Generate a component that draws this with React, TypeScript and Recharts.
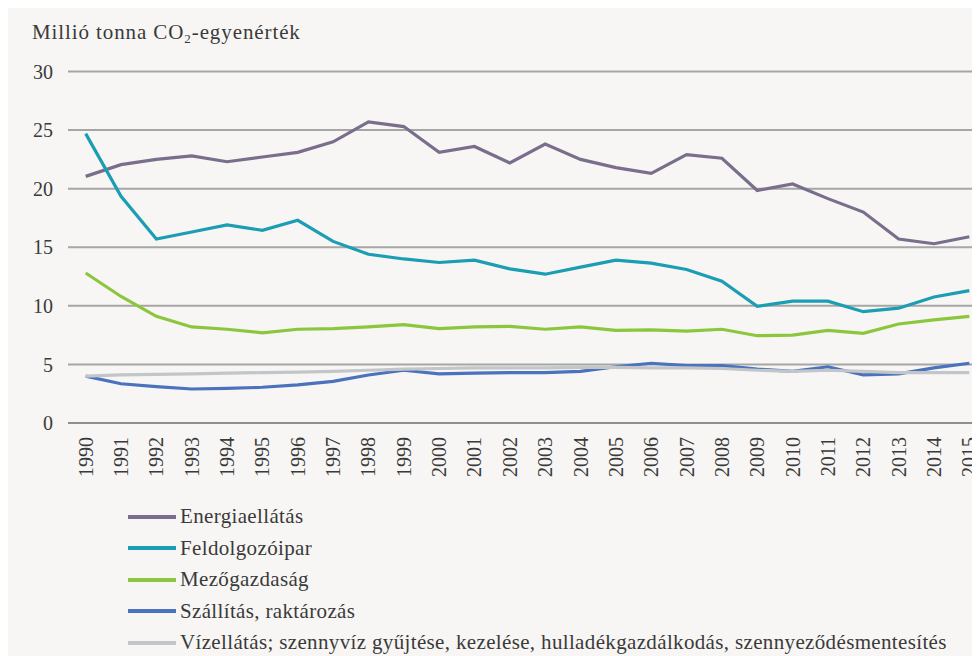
import React from "react";
import { LineChart, Line, XAxis, YAxis, CartesianGrid, Legend } from "recharts";

const years = ["1990","1991","1992","1993","1994","1995","1996","1997","1998","1999","2000","2001","2002","2003","2004","2005","2006","2007","2008","2009","2010","2011","2012","2013","2014","2015"];

const energia = [21.05, 22.05, 22.5, 22.8, 22.3, 22.7, 23.1, 24.0, 25.7, 25.3, 23.1, 23.6, 22.2, 23.8, 22.5, 21.8, 21.3, 22.9, 22.6, 19.85, 20.4, 19.15, 18.0, 15.7, 15.3, 15.9];
const feldolgozo = [24.7, 19.35, 15.7, 16.3, 16.9, 16.45, 17.3, 15.5, 14.4, 14.0, 13.7, 13.9, 13.15, 12.7, 13.3, 13.9, 13.65, 13.1, 12.1, 9.95, 10.4, 10.4, 9.5, 9.8, 10.75, 11.3];
const mezo = [12.8, 10.8, 9.1, 8.2, 8.0, 7.7, 8.0, 8.05, 8.2, 8.4, 8.05, 8.2, 8.25, 8.0, 8.2, 7.9, 7.95, 7.85, 8.0, 7.45, 7.5, 7.9, 7.65, 8.45, 8.8, 9.1];
const szallitas = [4.0, 3.35, 3.1, 2.9, 2.95, 3.05, 3.25, 3.55, 4.1, 4.5, 4.2, 4.25, 4.3, 4.3, 4.4, 4.8, 5.1, 4.9, 4.9, 4.6, 4.4, 4.8, 4.1, 4.2, 4.7, 5.1];
const viz = [4.0, 4.1, 4.15, 4.2, 4.25, 4.3, 4.35, 4.4, 4.5, 4.6, 4.65, 4.7, 4.7, 4.7, 4.75, 4.75, 4.7, 4.7, 4.65, 4.5, 4.4, 4.5, 4.4, 4.3, 4.3, 4.3];

const yTicks = [0, 5, 10, 15, 20, 25, 30];

const series = [
  { key: "energia", name: "Energiaellátás", color: "#7a6e8c" },
  { key: "feldolgozo", name: "Feldolgozóipar", color: "#1b9db3" },
  { key: "mezo", name: "Mezőgazdaság", color: "#8cc63e" },
  { key: "szallitas", name: "Szállítás, raktározás", color: "#4a72bd" },
  { key: "viz", name: "Vízellátás; szennyvíz gyűjtése, kezelése, hulladékgazdálkodás, szennyeződésmentesítés", color: "#c3c6c9" },
];

const data = years.map((year, i) => ({
  i,
  year,
  energia: energia[i],
  feldolgozo: feldolgozo[i],
  mezo: mezo[i],
  szallitas: szallitas[i],
  viz: viz[i],
}));

const boundaryTicks = years.map((_, i) => i - 0.5).concat([years.length - 0.5]);
const centerTicks = years.map((_, i) => i);

const FONT = "'Liberation Serif', 'Times New Roman', serif";
const TEXT = "#3a3a3a";

const YearTick = (props: any) => {
  const { x, y, payload } = props;
  return (
    <text
      transform={`translate(${x},${y + 2}) rotate(-90)`}
      textAnchor="end"
      dy="0.35em"
      fontFamily={FONT}
      fontSize={20}
      fill={TEXT}
    >
      {years[payload.value]}
    </text>
  );
};

const LegendContent = () => (
  <div style={{ fontFamily: FONT, fontSize: 21, letterSpacing: 0.35, color: TEXT }}>
    {series.map((s) => (
      <div key={s.key} style={{ display: "flex", alignItems: "center", height: 31.5, whiteSpace: "nowrap" }}>
        <span style={{ display: "inline-block", width: 48, height: 4, background: s.color, marginRight: 4 }} />
        <span>{s.name}</span>
      </div>
    ))}
  </div>
);

export default function App() {
  return (
    <div style={{ position: "relative", width: 972, height: 648, overflow: "hidden", background: "#f7f6f4" }}>
      <div
        style={{
          position: "absolute",
          left: 24,
          top: 14,
          fontFamily: FONT,
          fontSize: 21,
          letterSpacing: 0.9,
          lineHeight: "21px",
          color: TEXT,
          whiteSpace: "nowrap",
          zIndex: 2,
        }}
      >
        Millió tonna CO<sub style={{ fontSize: 13, verticalAlign: "-4px", lineHeight: 0 }}>2</sub>-egyenérték
      </div>
      <LineChart
        width={990}
        height={648}
        data={data}
        margin={{ top: 63.5, right: 11, left: 0, bottom: 161 }}
      >
        <CartesianGrid vertical={false} stroke="#a6a6a6" strokeWidth={2} />
        <XAxis
          xAxisId={0}
          dataKey="i"
          type="number"
          domain={[-0.5, 25.5]}
          ticks={boundaryTicks}
          tick={false}
          tickSize={11}
          height={12}
          stroke="#8f8f8f"
          strokeWidth={2}
          allowDataOverflow
        />
        <XAxis
          xAxisId="lab"
          dataKey="i"
          type="number"
          domain={[-0.5, 25.5]}
          ticks={centerTicks}
          interval={0}
          tick={<YearTick />}
          tickLine={false}
          axisLine={false}
          tickSize={0}
          tickMargin={0}
          height={60}
        />
        <YAxis
          width={60}
          domain={[0, 30]}
          ticks={yTicks}
          axisLine={false}
          tickLine={false}
          tickSize={0}
          tickMargin={15}
          tick={{ fontFamily: FONT, fontSize: 20, fill: TEXT }}
        />
        {series.map((s) => (
          <Line
            key={s.key}
            xAxisId={0}
            type="linear"
            dataKey={s.key}
            name={s.name}
            stroke={s.color}
            strokeWidth={3.2}
            dot={false}
            isAnimationActive={false}
          />
        ))}
        <Legend
          layout="vertical"
          align="center"
          verticalAlign="middle"
          content={<LegendContent />}
          wrapperStyle={{ top: 493, left: 120, width: "auto" }}
        />
      </LineChart>
    </div>
  );
}
